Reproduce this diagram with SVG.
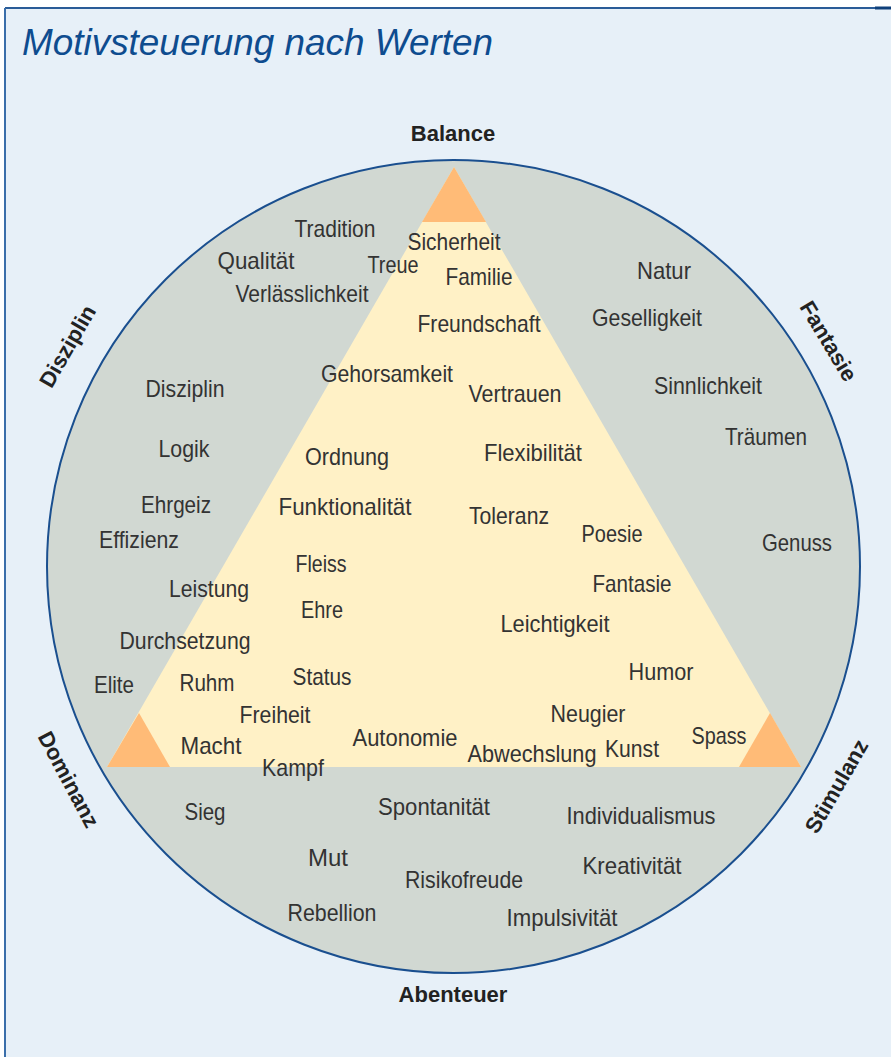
<svg xmlns="http://www.w3.org/2000/svg" width="891" height="1057" viewBox="0 0 891 1057">
  <style>
    .lbl { font-family: "Liberation Sans", Arial, sans-serif; font-size: 24px; fill: #333333; text-anchor: middle; }
    .axis { font-family: "Liberation Sans", Arial, sans-serif; font-size: 22px; font-weight: bold; fill: #222222; text-anchor: middle; }
    .title { font-family: "Liberation Sans", Arial, sans-serif; font-size: 37px; font-style: italic; fill: #0E4C8F; }
    .corner { fill: #FFBB77; }
  </style>

  <!-- panel -->
  <rect x="5" y="8" width="886" height="1049" fill="#E7F0F8"/>
  <line x1="5" y1="8" x2="891" y2="8" stroke="#2A5C98" stroke-width="2"/>
  <line x1="5" y1="8" x2="5" y2="1057" stroke="#3A6EAA" stroke-width="2"/>
  <line x1="875" y1="8" x2="891" y2="8" stroke="#0E3F7A" stroke-width="3"/>

  <text id="title" class="title" x="22" y="55" textLength="471" lengthAdjust="spacingAndGlyphs">Motivsteuerung nach Werten</text>

  <!-- value circle -->
  <g id="circle">
    <circle cx="453.5" cy="566.5" r="406.5" fill="#D1D8D2" stroke="#1A4F8F" stroke-width="2"/>
  </g>

  <!-- balance triangle with corner tips -->
  <g id="triangle">
    <polygon points="454,167 107,767 801,767" fill="#FFF1C6"/>
    <polygon class="corner" points="454,167 422,222 486,222"/>
    <polygon class="corner" points="139,713 107,767 170,767"/>
    <polygon class="corner" points="770,713 739,767 801,767"/>
  </g>

  <!-- axis labels -->
  <g id="axes">
    <text class="axis" x="453" y="141">Balance</text>
    <text class="axis" x="453" y="1002">Abenteuer</text>
    <text class="axis" transform="translate(74,350) rotate(-60)">Disziplin</text>
    <text class="axis" transform="translate(822,345) rotate(59)">Fantasie</text>
    <text class="axis" transform="translate(62,783) rotate(62)">Dominanz</text>
    <text class="axis" transform="translate(843,790) rotate(-60)">Stimulanz</text>
  </g>

  <!-- values (condensed to fixed widths) -->
  <g id="values">
    <text class="lbl" x="335" y="237" textLength="81" lengthAdjust="spacingAndGlyphs">Tradition</text>
    <text class="lbl" x="256" y="269" textLength="77" lengthAdjust="spacingAndGlyphs">Qualität</text>
    <text class="lbl" x="393" y="273" textLength="51" lengthAdjust="spacingAndGlyphs">Treue</text>
    <text class="lbl" x="454" y="250" textLength="93" lengthAdjust="spacingAndGlyphs">Sicherheit</text>
    <text class="lbl" x="479" y="285" textLength="67" lengthAdjust="spacingAndGlyphs">Familie</text>
    <text class="lbl" x="302" y="302" textLength="133" lengthAdjust="spacingAndGlyphs">Verlässlichkeit</text>
    <text class="lbl" x="664" y="279" textLength="54" lengthAdjust="spacingAndGlyphs">Natur</text>
    <text class="lbl" x="647" y="326" textLength="110" lengthAdjust="spacingAndGlyphs">Geselligkeit</text>
    <text class="lbl" x="479" y="332" textLength="123" lengthAdjust="spacingAndGlyphs">Freundschaft</text>
    <text class="lbl" x="387" y="382" textLength="132" lengthAdjust="spacingAndGlyphs">Gehorsamkeit</text>
    <text class="lbl" x="515" y="402" textLength="93" lengthAdjust="spacingAndGlyphs">Vertrauen</text>
    <text class="lbl" x="185" y="397" textLength="79" lengthAdjust="spacingAndGlyphs">Disziplin</text>
    <text class="lbl" x="708" y="394" textLength="108" lengthAdjust="spacingAndGlyphs">Sinnlichkeit</text>
    <text class="lbl" x="184" y="457" textLength="51" lengthAdjust="spacingAndGlyphs">Logik</text>
    <text class="lbl" x="347" y="465" textLength="84" lengthAdjust="spacingAndGlyphs">Ordnung</text>
    <text class="lbl" x="533" y="461" textLength="98" lengthAdjust="spacingAndGlyphs">Flexibilität</text>
    <text class="lbl" x="766" y="445" textLength="82" lengthAdjust="spacingAndGlyphs">Träumen</text>
    <text class="lbl" x="176" y="513" textLength="70" lengthAdjust="spacingAndGlyphs">Ehrgeiz</text>
    <text class="lbl" x="345" y="515" textLength="133" lengthAdjust="spacingAndGlyphs">Funktionalität</text>
    <text class="lbl" x="509" y="524" textLength="80" lengthAdjust="spacingAndGlyphs">Toleranz</text>
    <text class="lbl" x="139" y="548" textLength="80" lengthAdjust="spacingAndGlyphs">Effizienz</text>
    <text class="lbl" x="612" y="542" textLength="61" lengthAdjust="spacingAndGlyphs">Poesie</text>
    <text class="lbl" x="797" y="551" textLength="70" lengthAdjust="spacingAndGlyphs">Genuss</text>
    <text class="lbl" x="321" y="572" textLength="51" lengthAdjust="spacingAndGlyphs">Fleiss</text>
    <text class="lbl" x="632" y="592" textLength="79" lengthAdjust="spacingAndGlyphs">Fantasie</text>
    <text class="lbl" x="209" y="597" textLength="80" lengthAdjust="spacingAndGlyphs">Leistung</text>
    <text class="lbl" x="322" y="618" textLength="42" lengthAdjust="spacingAndGlyphs">Ehre</text>
    <text class="lbl" x="555" y="632" textLength="109" lengthAdjust="spacingAndGlyphs">Leichtigkeit</text>
    <text class="lbl" x="185" y="649" textLength="131" lengthAdjust="spacingAndGlyphs">Durchsetzung</text>
    <text class="lbl" x="661" y="680" textLength="65" lengthAdjust="spacingAndGlyphs">Humor</text>
    <text class="lbl" x="322" y="685" textLength="59" lengthAdjust="spacingAndGlyphs">Status</text>
    <text class="lbl" x="114" y="693" textLength="40" lengthAdjust="spacingAndGlyphs">Elite</text>
    <text class="lbl" x="207" y="691" textLength="55" lengthAdjust="spacingAndGlyphs">Ruhm</text>
    <text class="lbl" x="275" y="723" textLength="71" lengthAdjust="spacingAndGlyphs">Freiheit</text>
    <text class="lbl" x="588" y="722" textLength="75" lengthAdjust="spacingAndGlyphs">Neugier</text>
    <text class="lbl" x="405" y="746" textLength="105" lengthAdjust="spacingAndGlyphs">Autonomie</text>
    <text class="lbl" x="719" y="744" textLength="55" lengthAdjust="spacingAndGlyphs">Spass</text>
    <text class="lbl" x="211" y="754" textLength="61" lengthAdjust="spacingAndGlyphs">Macht</text>
    <text class="lbl" x="632" y="757" textLength="54" lengthAdjust="spacingAndGlyphs">Kunst</text>
    <text class="lbl" x="532" y="762" textLength="129" lengthAdjust="spacingAndGlyphs">Abwechslung</text>
    <text class="lbl" x="293" y="776" textLength="62" lengthAdjust="spacingAndGlyphs">Kampf</text>
    <text class="lbl" x="205" y="820" textLength="41" lengthAdjust="spacingAndGlyphs">Sieg</text>
    <text class="lbl" x="434" y="815" textLength="112" lengthAdjust="spacingAndGlyphs">Spontanität</text>
    <text class="lbl" x="641" y="824" textLength="149" lengthAdjust="spacingAndGlyphs">Individualismus</text>
    <text class="lbl" x="328" y="866" textLength="40" lengthAdjust="spacingAndGlyphs">Mut</text>
    <text class="lbl" x="632" y="874" textLength="99" lengthAdjust="spacingAndGlyphs">Kreativität</text>
    <text class="lbl" x="464" y="888" textLength="118" lengthAdjust="spacingAndGlyphs">Risikofreude</text>
    <text class="lbl" x="332" y="921" textLength="89" lengthAdjust="spacingAndGlyphs">Rebellion</text>
    <text class="lbl" x="562" y="926" textLength="111" lengthAdjust="spacingAndGlyphs">Impulsivität</text>
  </g>
</svg>
